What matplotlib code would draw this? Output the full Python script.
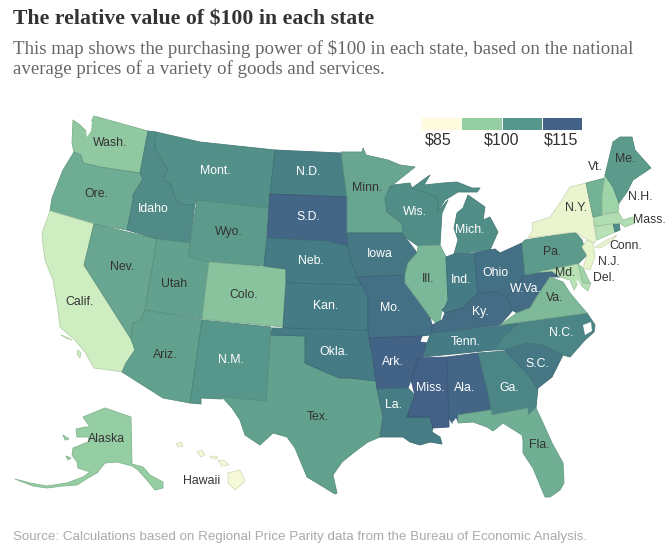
import matplotlib
matplotlib.use('Agg')
import matplotlib.pyplot as plt
from matplotlib.colors import LinearSegmentedColormap, Normalize, to_rgb
from matplotlib.patches import Polygon, Rectangle

# purchasing power of $100
states = ['Wash.', 'Ore.', 'Calif.', 'Nev.', 'Idaho', 'Mont.', 'Wyo.', 'Utah', 'Colo.', 'Ariz.',
          'N.M.', 'Tex.', 'N.D.', 'S.D.', 'Neb.', 'Kan.', 'Okla.', 'Minn.', 'Iowa', 'Mo.',
          'Ark.', 'La.', 'Wis.', 'Ill.', 'Mich.', 'Ind.', 'Ohio', 'Ky.', 'W.Va.', 'Tenn.',
          'Miss.', 'Ala.', 'Ga.', 'Fla.', 'S.C.', 'N.C.', 'Va.', 'Pa.', 'Md.', 'Del.',
          'N.J.', 'N.Y.', 'Conn.', 'R.I.', 'Mass.', 'Vt.', 'N.H.', 'Me.', 'Alaska', 'Hawaii']
values = [96, 101, 88.6, 102, 107, 106, 104, 103, 97, 103,
          105, 103, 109, 114, 110, 110, 110, 102, 110.5, 112,
          114.5, 109.5, 106.5, 99, 106.5, 110, 112, 112.5, 112.5, 110,
          115.5, 114, 108, 100.5, 110.5, 108, 98.5, 104, 91, 94,
          87, 86.8, 91, 107, 92, 100, 94, 104, 95, 85.8]

legend_values = [85, 95, 105, 115]
legend_labels = ['$85', '$100', '$115']

# map geometry
outlines = {
    'Wash.': [[(73,120),(80,125),(86,131),(90,124),(94,116),(148,131),(140,173),(120,170),(100,167),(83,163),(81,155),(74,152),(72,143)]],
    'Ore.': [[(74,152),(81,155),(83,163),(100,167),(120,170),(140,173),(143,179),(133,195),(133,200),(127,230),(94,224),(50,211),(52,198),(63,170)]],
    'Calif.': [[(50,211),(94,224),(84,265),(134,335),(135,350),(126,363),(124,372),(94,368),(85,352),(75,340),(60,327),(58,310),(53,280),(45,260),(43,245),(42,233)],
               [(61,335),(68,338),(72,340),(66,338)], [(78,350),(81,353),(80,358),(77,354)]],
    'Nev.': [[(94,224),(157,239),(145,310),(140,321),(133,323),(131,339),(84,265)]],
    'Idaho': [[(148,131),(156,132),(155,147),(160,158),(168,170),(163,180),(170,183),(177,202),(186,205),(195,204),(190,243),(157,239),(127,230),(133,200),(133,195),(143,179),(140,173)]],
    'Mont.': [[(156,132),(200,142),(275,150),(269,208),(197,200),(195,204),(186,205),(177,202),(170,183),(163,180),(168,170),(160,158),(155,147)]],
    'Wyo.': [[(197,200),(269,208),(264,266),(209,262),(188,257)]],
    'Utah': [[(157,239),(190,243),(188,257),(209,262),(202,319),(145,310)]],
    'Colo.': [[(209,262),(286,269),(283,327),(202,319)]],
    'Ariz.': [[(145,310),(202,320),(190,403),(163,398),(122,372),(126,363),(135,350),(131,339),(133,323),(140,321)]],
    'N.M.': [[(202,320),(271,327),(266,401),(222,397),(222,399),(201,398),(201,404),(190,403)]],
    'Tex.': [[(271,335),(305,336),(305,363),(325,372),(340,378),(350,378),(376,381),(377,389),(383,417),(380,437),(368,442),(357,450),(342,462),(333,475),(337,493),(335,494),(317,483),(307,477),(295,448),(287,437),(273,433),(260,445),(245,435),(240,420),(232,408),(222,397),(266,401)]],
    'N.D.': [[(275,150),(341,153),(347,197),(270,194)]],
    'S.D.': [[(270,194),(347,197),(347,233),(348,246),(335,243),(328,241),(267,238)]],
    'Neb.': [[(267,238),(328,241),(335,243),(348,246),(353,265),(362,285),(286,283),(286,269),(264,266)]],
    'Kan.': [[(286,283),(362,285),(368,297),(368,330),(283,328)]],
    'Okla.': [[(272,328),(368,330),(369,338),(372,353),(376,381),(350,378),(340,378),(325,372),(305,363),(305,336),(271,335)]],
    'Minn.': [[(341,152),(362,152),(363,148),(366,155),(388,160),(400,165),(415,167),(395,183),(390,187),(385,198),(387,212),(402,223),(403,233),(347,233),(347,197)]],
    'Iowa': [[(347,233),(403,233),(405,237),(415,250),(417,253),(408,263),(405,275),(357,277),(350,257),(348,246)]],
    'Mo.': [[(357,277),(405,275),(405,283),(420,303),(430,317),(432,325),(432,333),(430,335),(422,336),(369,338),(368,330),(368,297),(362,285)]],
    'Ark.': [[(369,338),(422,336),(420,342),(427,343),(423,357),(418,358),(411,380),(408,388),(377,389),(376,381),(372,353)]],
    'La.': [[(377,389),(408,388),(415,395),(407,417),(430,417),(433,428),(432,432),(440,437),(442,444),(430,442),(420,445),(410,442),(403,437),(380,437),(383,417)]],
    'Wis.': [[(393,185),(410,183),(412,188),(437,197),(438,205),(437,212),(448,200),(442,213),(440,245),(418,246),(405,237),(403,233),(402,223),(387,212),(385,198),(390,187)]],
    'Ill.': [[(418,246),(440,245),(446,257),(448,300),(445,307),(442,310),(439,326),(430,317),(420,303),(405,283),(405,275),(408,263),(417,253)]],
    'Mich.': [[(412,188),(430,175),(424,185),(443,183),(457,182),(472,188),(480,188),(477,192),(458,192),(445,200),(437,212),(438,205),(437,197)],
              [(454,228),(457,213),(463,208),(468,195),(485,207),(483,220),(490,217),(498,232),(490,250),(454,254),(458,240)]],
    'Ind.': [[(446,257),(454,254),(474,253),(478,293),(463,308),(445,313),(442,310),(445,307),(448,300)]],
    'Ohio': [[(474,253),(495,249),(500,253),(522,243),(525,275),(507,297),(497,292),(478,293)]],
    'Ky.': [[(445,313),(463,308),(478,293),(497,292),(507,297),(513,310),(500,325),(432,333),(432,325),(442,320)]],
    'W.Va.': [[(525,275),(538,273),(552,271),(560,277),(550,277),(538,295),(530,308),(517,313),(512,310),(507,297)]],
    'Va.': [[(500,325),(517,313),(530,308),(538,295),(550,277),(563,282),(570,293),(580,305),(587,313)]],
    'Pa.': [[(522,243),(525,240),(575,232),(582,240),(587,255),(578,264),(540,272),(525,275)]],
    'Md.': [[(540,272),(578,264),(583,283),(591,283),(588,291),(578,283),(574,290),(570,280),(560,277),(552,271)]],
    'Del.': [[(578,264),(583,268),(590,283),(583,283)]],
    'N.J.': [[(587,240),(593,243),(595,257),(590,270),(583,268),(587,255),(582,247)]],
    'N.Y.': [[(528,238),(533,230),(532,223),(550,217),(560,203),(570,187),(586,183),(593,217),(596,240),(595,243),(588,240),(575,232)],
             [(595,247),(607,240),(617,235),(612,241),(600,248)]],
    'Conn.': [[(595,227),(613,223),(615,232),(597,240)]],
    'R.I.': [[(613,223),(619,222),(620,230),(615,232)]],
    'Mass.': [[(594,217),(618,212),(623,220),(633,217),(635,223),(625,227),(620,223),(594,226)]],
    'Vt.': [[(586,183),(605,178),(602,197),(602,215),(593,217)]],
    'N.H.': [[(605,175),(613,187),(619,203),(618,212),(602,214),(602,197)]],
    'Me.': [[(605,175),(613,142),(620,137),(632,137),(635,150),(651,168),(633,180),(627,192),(619,203),(613,187)]],
    'Tenn.': [[(432,333),(518,324),(503,337),(493,350),(423,357),(427,343),(430,335)]],
    'N.C.': [[(500,325),(587,313),(595,325),(594,332),(585,340),(570,357),(563,355),(543,345),(527,343),(505,350),(493,350),(503,337),(518,324)]],
    'S.C.': [[(505,350),(527,343),(543,345),(563,355),(552,377),(538,388),(527,373),(512,358)]],
    'Ga.': [[(478,353),(505,351),(512,358),(527,373),(538,388),(536,408),(528,415),(528,408),(492,415),(488,393)]],
    'Ala.': [[(447,357),(478,353),(488,393),(491,410),(458,415),(458,422),(452,423),(449,418)]],
    'Miss.': [[(418,358),(447,357),(449,418),(449,427),(433,428),(430,417),(407,417),(415,395),(411,380)]],
    'Fla.': [[(458,415),(491,410),(492,415),(528,408),(528,415),(536,408),(543,423),(552,443),(563,463),(564,483),(560,490),(550,497),(545,497),(533,468),(523,453),(523,440),(522,435),(503,423),(493,431),(487,427),(473,422),(458,423)]],
    'Alaska': [[(83,417),(105,408),(131,417),(132,464),(143,467),(150,475),(163,482),(163,488),(155,490),(147,480),(138,470),(132,466),(117,462),(105,463),(97,473),(88,478),(77,485),(63,486),(47,488),(33,486),(15,479),(30,483),(47,486),(67,483),(83,477),(90,472),(78,468),(77,462),(72,455),(73,448),(88,442),(89,437),(77,437),(76,429),(85,427),(90,427)],
               [(63,435),(69,439),(65,440)], [(66,456),(71,458),(68,460)]],
    'Hawaii': [[(228,473),(240,470),(245,481),(235,490),(228,483)],
               [(218,460),(225,461),(229,465),(222,466)], [(210,456),(218,457),(216,459),(211,458)],
               [(197,452),(202,450),(205,455),(201,457)], [(176,444),(181,442),(183,446),(178,447)]],
}

labels = {
    'Wash.': (110, 143), 'Ore.': (96, 194), 'Calif.': (80, 302), 'Nev.': (122, 267), 'Idaho': (153, 209),
    'Mont.': (215, 171), 'Wyo.': (229, 232), 'Utah': (174, 284), 'Colo.': (244, 295), 'Ariz.': (165, 355),
    'N.M.': (231, 360), 'Tex.': (318, 417), 'N.D.': (308, 172), 'S.D.': (308, 217), 'Neb.': (311, 261),
    'Kan.': (326, 306), 'Okla.': (334, 352), 'Minn.': (367, 188), 'Iowa': (380, 254), 'Mo.': (390, 308),
    'Ark.': (393, 362), 'La.': (394, 405), 'Wis.': (415, 212), 'Ill.': (428, 279), 'Mich.': (470, 230),
    'Ind.': (461, 280), 'Ohio': (495, 273), 'Ky.': (480, 312), 'W.Va.': (526, 289), 'Tenn.': (466, 342),
    'Miss.': (430, 388), 'Ala.': (465, 388), 'Ga.': (509, 388), 'Fla.': (539, 445), 'S.C.': (537, 364),
    'N.C.': (561, 333), 'Va.': (555, 298), 'Pa.': (552, 252), 'Md.': (565, 273), 'Del.': (604, 278),
    'N.J.': (609, 262), 'N.Y.': (576, 208), 'Conn.': (626, 246), 'Mass.': (649, 220), 'Vt.': (595, 167),
    'N.H.': (640, 197), 'Me.': (625, 159), 'Alaska': (107, 439), 'Hawaii': (202, 481),
}
white_labels = ['Idaho', 'Mont.', 'N.M.', 'N.D.', 'S.D.', 'Neb.', 'Kan.', 'Okla.', 'Iowa', 'Mo.', 'Ark.', 'La.',
                'Wis.', 'Mich.', 'Ind.', 'Ohio', 'Ky.', 'W.Va.', 'Tenn.', 'Miss.', 'Ala.', 'Ga.', 'S.C.', 'N.C.']

# inlets cut out of the coast: Puget Sound, Chesapeake, Pamlico, Mobile Bay
water = [[(88,122),(92,121),(91,131),(87,137),(86,130)],
         [(576,279),(579,282),(586,297),(583,302),(580,292)],
         [(583,325),(591,322),(592,331),(585,335)],
         [(452,423),(456,418),(458,423)]]

stops = [(85, '#fdfbdc'), (86.9, '#e9f5ce'), (88.6, '#cdeec0'), (95, '#96cea3'), (100, '#74b296'),
         (105, '#57968a'), (110, '#457b84'), (115, '#436086')]
norm = Normalize(85, 115)
cmap = LinearSegmentedColormap.from_list('rpp', [(norm(v), c) for v, c in stops])

fig = plt.figure(figsize=(6.71, 5.53), dpi=100)
ax = fig.add_axes([0, 0, 1, 1])
ax.set_xlim(0, 671)
ax.set_ylim(553, 0)
ax.axis('off')

for name, value in zip(states, values):
    color = cmap(norm(value))
    edge = tuple(c * 0.88 for c in to_rgb(color))
    for points in outlines[name]:
        ax.add_patch(Polygon(points, closed=True, facecolor=color, edgecolor=edge, linewidth=0.6, joinstyle='round'))
for points in water:
    ax.add_patch(Polygon(points, closed=True, facecolor='white', edgecolor='none'))

sans = 'Liberation Sans'
for name, (x, y) in labels.items():
    color = 'white' if name in white_labels else '#333333'
    ax.text(x, y, name, ha='center', va='center', family=sans, fontsize=8.8, color=color)

# legend
for i, value in enumerate(legend_values):
    ax.add_patch(Rectangle((422 + i * 40.3, 117.5), 39.3, 12, facecolor=cmap(norm(value)), edgecolor='none'))
for x, text in zip([438, 502, 561], legend_labels):
    ax.text(x, 140, text, ha='center', va='center', family=sans, fontsize=11.5, color='#333333')

ax.text(13, 20, 'The relative value of $100 in each state', family='Liberation Serif', weight='bold',
        fontsize=15.7, color='#333333', va='center')
ax.text(13, 48.5, 'This map shows the purchasing power of $100 in each state, based on the national',
        family='Liberation Serif', fontsize=13.6, color='#666666', va='center')
ax.text(13, 69, 'average prices of a variety of goods and services.',
        family='Liberation Serif', fontsize=13.6, color='#666666', va='center')
ax.text(13, 537, 'Source: Calculations based on Regional Price Parity data from the Bureau of Economic Analysis.',
        family=sans, fontsize=9.6, color='#aaaaaa', va='center')

fig.savefig('out.png', dpi=100)
